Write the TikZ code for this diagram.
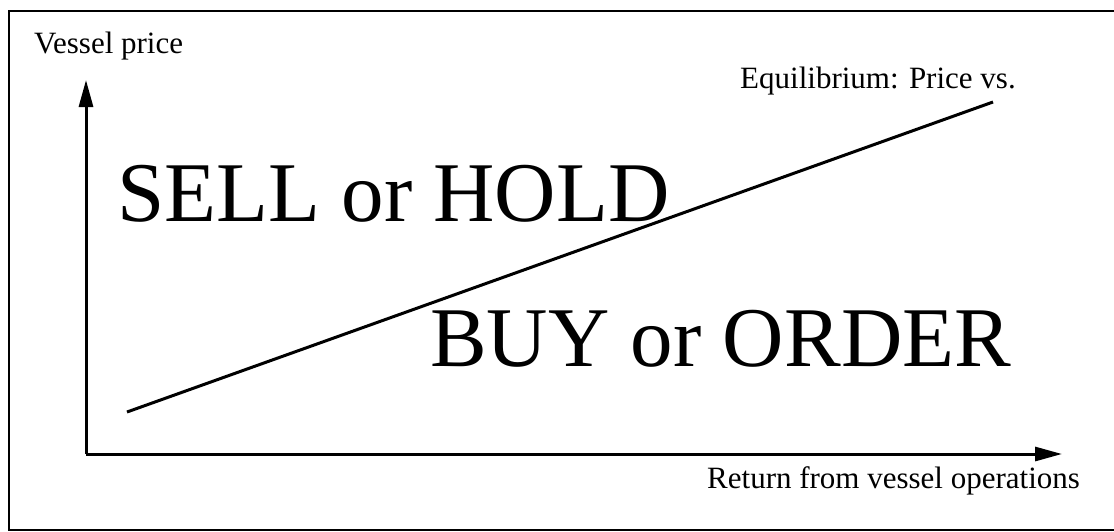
\documentclass[tikz,border=0pt]{standalone}
\usepackage{fontspec}
\setmainfont{Liberation Serif}
\usetikzlibrary{arrows.meta}

\begin{document}
\begin{tikzpicture}[x=1pt, y=-1pt,
    axis/.style={line width=3pt, -{Triangle[length=27pt, width=14pt]}},
    label/.style={anchor=base west, inner sep=0pt, font=\fontsize{31}{36}\selectfont},
    region/.style={anchor=base west, inner sep=0pt, font=\fontsize{85}{95}\selectfont}]
    \useasboundingbox (0,0) rectangle (1114,531);
    \draw[line width=2.5pt] (9,11) rectangle (1116,530);

    % axes
    \coordinate (origin) at (86,454);
    \coordinate (ytip) at (86,80);
    \coordinate (xtip) at (1062,454);
    \draw[axis] (origin) -- (ytip);
    \draw[axis] (origin) -- (xtip);
    \node[label] (ylab) at (34,53) {Vessel price};
    \node[label] (xlab) at (707,488) {Return from vessel operations};

    % equilibrium line
    \coordinate (eqlo) at (127,412);
    \coordinate (eqhi) at (993,102);
    \draw[line width=3pt] (eqlo) -- (eqhi);
    \node[label] (eqlab) at (740,88) {Equilibrium: Price vs.};

    \node[region] (sell) at (117,221) {SELL or HOLD};
    \node[region] (buy) at (430,366) {BUY or ORDER};
\end{tikzpicture}
\end{document}
